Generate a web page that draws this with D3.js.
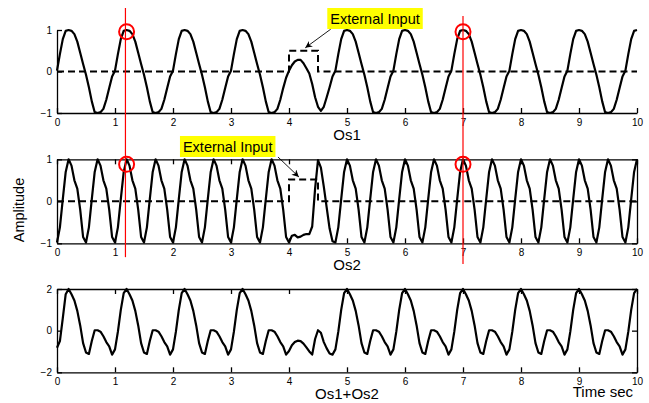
<!DOCTYPE html>
<html>
<head>
<meta charset="utf-8">
<script src="https://cdn.jsdelivr.net/npm/d3@7/dist/d3.min.js"></script>
<style>
body { margin: 0; background: #fff; }
text { font-family: "Liberation Sans", Arial, Helvetica, sans-serif; }
</style>
</head>
<body>
<script>
// sample step of the signals (sec)
var dt = 0.05;

// Os1, t = 0 .. 10
var os1 = [
  0.02, 0.42, 0.78, 0.98, 1.00, 0.98, 0.90, 0.72, 0.45, 0.18, -0.08, -0.38, -0.72, -0.98, -1.00, -0.98, -0.90, -0.68, -0.40, -0.12,
  0.02, 0.42, 0.78, 0.98, 1.00, 0.98, 0.90, 0.72, 0.45, 0.18, -0.08, -0.38, -0.72, -0.98, -1.00, -0.98, -0.90, -0.68, -0.40, -0.12,
  0.02, 0.42, 0.78, 0.98, 1.00, 0.98, 0.90, 0.72, 0.45, 0.18, -0.08, -0.38, -0.72, -0.98, -1.00, -0.98, -0.90, -0.68, -0.40, -0.12,
  0.02, 0.42, 0.78, 0.98, 1.00, 0.98, 0.90, 0.72, 0.45, 0.18, -0.08, -0.38, -0.72, -0.98, -1.00, -0.98, -0.90, -0.68, -0.40, -0.15,
  0.02, 0.15, 0.24, 0.28, 0.28, 0.20, 0.08, -0.05, -0.30, -0.62, -0.85, -0.95, -0.85, -0.62, -0.38, -0.12,
  0.02, 0.42, 0.78, 0.98, 1.00, 0.98, 0.90, 0.72, 0.45, 0.18, -0.08, -0.38, -0.72, -0.98, -1.00, -0.98, -0.90, -0.68, -0.40, -0.12,
  0.02, 0.42, 0.78, 0.98, 1.00, 0.98, 0.90, 0.72, 0.45, 0.18, -0.08, -0.38, -0.72, -0.98, -1.00, -0.98, -0.90, -0.68, -0.40, -0.12,
  0.02, 0.42, 0.78, 0.98, 1.00, 0.98, 0.90, 0.72, 0.45, 0.18, -0.08, -0.38, -0.72, -0.98, -1.00, -0.98, -0.90, -0.68, -0.40, -0.12,
  0.02, 0.42, 0.78, 0.98, 1.00, 0.98, 0.90, 0.72, 0.45, 0.18, -0.08, -0.38, -0.72, -0.98, -1.00, -0.98, -0.90, -0.68, -0.40, -0.12,
  0.02, 0.42, 0.78, 0.98, 1.00, 0.98, 0.90, 0.72, 0.45, 0.18, -0.08, -0.38, -0.72, -0.98, -1.00, -0.98, -0.90, -0.68, -0.40, -0.12,
  0.02, 0.42, 0.78, 0.98, 1.00
];

// Os2, middle panel
var os2 = [
  -0.98, -0.62, 0.05, 0.70, 1.00, 0.85, 0.50, 0.30, -0.20, -0.85, -0.98, -0.62, 0.05, 0.70, 1.00, 0.85, 0.50, 0.30, -0.20, -0.85,
  -0.98, -0.62, 0.05, 0.70, 1.00, 0.85, 0.50, 0.30, -0.20, -0.85, -0.98, -0.62, 0.05, 0.70, 1.00, 0.85, 0.50, 0.30, -0.20, -0.85,
  -0.98, -0.62, 0.05, 0.70, 1.00, 0.85, 0.50, 0.30, -0.20, -0.85, -0.98, -0.62, 0.05, 0.70, 1.00, 0.85, 0.50, 0.30, -0.20, -0.85,
  -0.98, -0.62, 0.05, 0.70, 1.00, 0.85, 0.50, 0.30, -0.20, -0.85, -0.98, -0.62, 0.05, 0.70, 1.00, 0.85, 0.50, 0.30, -0.20, -0.85,
  -0.98, -0.82, -0.80, -0.86, -0.84, -0.80, -0.78, -0.78, -0.60, 0.30, 0.98, 0.80, 0.35, -0.15, -0.65, -0.95,
  -0.98, -0.62, 0.05, 0.70, 1.00, 0.85, 0.50, 0.30, -0.20, -0.85, -0.98, -0.62, 0.05, 0.70, 1.00, 0.85, 0.50, 0.30, -0.20, -0.85,
  -0.98, -0.62, 0.05, 0.70, 1.00, 0.85, 0.50, 0.30, -0.20, -0.85, -0.98, -0.62, 0.05, 0.70, 1.00, 0.85, 0.50, 0.30, -0.20, -0.85,
  -0.98, -0.62, 0.05, 0.70, 1.00, 0.85, 0.50, 0.30, -0.20, -0.85, -0.98, -0.62, 0.05, 0.70, 1.00, 0.85, 0.50, 0.30, -0.20, -0.85,
  -0.98, -0.62, 0.05, 0.70, 1.00, 0.85, 0.50, 0.30, -0.20, -0.85, -0.98, -0.62, 0.05, 0.70, 1.00, 0.85, 0.50, 0.30, -0.20, -0.85,
  -0.98, -0.62, 0.05, 0.70, 1.00, 0.85, 0.50, 0.30, -0.20, -0.85, -0.98, -0.62, 0.05, 0.70, 1.00, 0.85, 0.50, 0.30, -0.20, -0.85,
  -0.98, -0.62, 0.05, 0.70, 1.00
];

// Os1+Os2, bottom panel
var osSum = [
  -0.82, -0.50, 0.60, 1.75, 2.00, 1.75, 1.45, 0.95, 0.25, -0.60, -1.05, -1.12, -0.50, 0.02, 0.02, -0.05, -0.27, -0.55, -0.75, -1.15,
  -0.90, -0.05, 1.00, 1.80, 2.00, 1.75, 1.45, 0.95, 0.25, -0.60, -1.05, -1.12, -0.50, 0.02, 0.02, -0.05, -0.27, -0.55, -0.75, -1.15,
  -0.90, -0.05, 1.00, 1.80, 2.00, 1.75, 1.45, 0.95, 0.25, -0.60, -1.05, -1.12, -0.50, 0.02, 0.02, -0.05, -0.27, -0.55, -0.75, -1.15,
  -0.90, -0.05, 1.00, 1.80, 2.00, 1.75, 1.45, 0.95, 0.25, -0.60, -1.05, -1.12, -0.50, 0.02, 0.02, -0.05, -0.27, -0.55, -0.75, -1.15,
  -0.98, -0.70, -0.55, -0.48, -0.50, -0.62, -0.80, -1.00, -1.15, -0.40, 0.02, -0.10, -0.55, -0.85, -1.10, -1.15,
  -0.90, -0.05, 1.00, 1.80, 2.00, 1.75, 1.45, 0.95, 0.25, -0.60, -1.05, -1.12, -0.50, 0.02, 0.02, -0.05, -0.27, -0.55, -0.75, -1.15,
  -0.90, -0.05, 1.00, 1.80, 2.00, 1.75, 1.45, 0.95, 0.25, -0.60, -1.05, -1.12, -0.50, 0.02, 0.02, -0.05, -0.27, -0.55, -0.75, -1.15,
  -0.90, -0.05, 1.00, 1.80, 2.00, 1.75, 1.45, 0.95, 0.25, -0.60, -1.05, -1.12, -0.50, 0.02, 0.02, -0.05, -0.27, -0.55, -0.75, -1.15,
  -0.90, -0.05, 1.00, 1.80, 2.00, 1.75, 1.45, 0.95, 0.25, -0.60, -1.05, -1.12, -0.50, 0.02, 0.02, -0.05, -0.27, -0.55, -0.75, -1.15,
  -0.90, -0.05, 1.00, 1.80, 2.00, 1.75, 1.45, 0.95, 0.25, -0.60, -1.05, -1.12, -0.50, 0.02, 0.02, -0.05, -0.27, -0.55, -0.75, -1.15,
  -0.90, -0.05, 1.00, 1.80, 2.00
];

// external input pulse (dashed)
var inputT = [0, 4, 4, 4.5, 4.5, 10];
var input1V = [0, 0, 0.5, 0.5, 0, 0];
var input2V = [0, 0, 0.52, 0.52, 0, 0];

// ticks
var xTicks = [0, 1, 2, 3, 4, 5, 6, 7, 8, 9, 10];
var yTicks1 = [-1, 0, 1];
var yTicks3 = [-2, 0, 2];

// red markers: vertical lines (top in Os1 units, bottom in Os2 units) and circles
var markLineT = [1.18, 7.0];
var markLineTop = [1.53, 1.34];
var markLineBottom = [-1.33, -1.49];
var markCircleT = [1.2, 7.0];
var markCircleV1 = 0.96;
var markCircleV2 = 0.88;

// "External Input" notes: box top-left, arrow tail and tip (data units of its panel)
var noteText = "External Input";
var noteBoxT = [4.66, 2.12];
var noteBoxV = [1.53, 1.555];
var noteTailT = [4.72, 3.81];
var noteTailV = [1.02, 1.055];
var noteTipT = [4.28, 4.17];
var noteTipV = [0.57, 0.58];

var width = 649, height = 403;
var left = 57, right = 637;

var svg = d3.select("body")
    .append("svg")
        .attr("width", width)
        .attr("height", height);

svg.append("defs").append("marker")
    .attr("id", "head")
    .attr("viewBox", "0 0 10 10")
    .attr("refX", 10)
    .attr("refY", 5)
    .attr("markerUnits", "userSpaceOnUse")
    .attr("markerWidth", 9)
    .attr("markerHeight", 7)
    .attr("orient", "auto")
  .append("path")
    .attr("d", "M0,0L10,5L0,10L3,5Z")
    .attr("fill", "#000");

var x = d3.scaleLinear()
    .domain([0, 10])
    .range([left, right]);

var panels = [
    {name: "Os1", values: os1, domain: [-1, 1], ticks: yTicks1, top: 30, bottom: 113, box: false, input: input1V},
    {name: "Os2", values: os2, domain: [-1, 1], ticks: yTicks1, top: 159.3, bottom: 243.3, box: true, input: input2V},
    {name: "Os1+Os2", values: osSum, domain: [-2, 2], ticks: yTicks3, top: 289, bottom: 372.3, box: true, input: null}
];

function styleAxis(g) {
    g.attr("font-family", null).attr("font-size", null);
    g.selectAll("text").style("font-size", "10px").attr("fill", "#000");
    g.selectAll("path, line").attr("stroke", "#000").attr("stroke-width", 1.3);
}

panels.forEach(function(p) {
    var y = d3.scaleLinear()
        .domain(p.domain)
        .range([p.bottom, p.top]);
    p.y = y;

    var g = svg.append("g");

    // Add the X Axis
    g.append("g")
        .attr("transform", "translate(0," + p.bottom + ")")
        .call(d3.axisBottom(x).tickValues(xTicks).tickFormat(d3.format("d"))
            .tickSizeInner(-5).tickSizeOuter(0).tickPadding(6))
        .call(styleAxis);

    // Add the Y Axis
    g.append("g")
        .attr("transform", "translate(" + left + ",0)")
        .call(d3.axisLeft(y).tickValues(p.ticks).tickFormat(d3.format("d"))
            .tickSizeInner(-5).tickSizeOuter(0).tickPadding(5))
        .call(styleAxis);

    if (p.box) {
        g.append("g")
            .attr("transform", "translate(0," + p.top + ")")
            .call(d3.axisTop(x).tickValues(xTicks).tickFormat("")
                .tickSizeInner(-5).tickSizeOuter(0))
            .call(styleAxis);
        g.append("g")
            .attr("transform", "translate(" + right + ",0)")
            .call(d3.axisRight(y).tickValues(p.ticks).tickFormat("")
                .tickSizeInner(-5).tickSizeOuter(0))
            .call(styleAxis);
    }

    // dashed external input
    if (p.input) {
        g.append("path")
            .datum(p.input)
            .attr("fill", "none")
            .attr("stroke", "#000")
            .attr("stroke-width", 2)
            .attr("stroke-dasharray", "7,4")
            .attr("d", d3.line()
                .x(function(d, i) { return x(inputT[i]); })
                .y(function(d) { return y(d); }));
    }

    // signal
    g.append("path")
        .datum(p.values)
        .attr("fill", "none")
        .attr("stroke", "#000")
        .attr("stroke-width", 2.2)
        .attr("stroke-linejoin", "round")
        .attr("d", d3.line()
            .x(function(d, i) { return x(i * dt); })
            .y(function(d) { return y(d); }));

    // panel label
    g.append("text")
        .attr("x", (left + right) / 2)
        .attr("y", p.bottom + 26.5)
        .attr("text-anchor", "middle")
        .style("font-size", "15px")
        .text(p.name);
});

svg.append("text")
    .attr("x", 633)
    .attr("y", 397)
    .attr("text-anchor", "end")
    .style("font-size", "15px")
    .text("Time sec");

svg.append("text")
    .attr("transform", "translate(24,210) rotate(-90)")
    .attr("text-anchor", "middle")
    .style("font-size", "14.5px")
    .text("Amplitude");

// External Input notes
[0, 1].forEach(function(k) {
    var y = panels[k].y;
    svg.append("line")
        .attr("x1", x(noteTailT[k]))
        .attr("y1", y(noteTailV[k]))
        .attr("x2", x(noteTipT[k]))
        .attr("y2", y(noteTipV[k]))
        .attr("stroke", "#000")
        .attr("stroke-width", 0.9)
        .attr("marker-end", "url(#head)");

    var bx = x(noteBoxT[k]), by = y(noteBoxV[k]);
    var rect = svg.append("rect").attr("fill", "#ffff00");
    var t = svg.append("text")
        .attr("x", bx + 3)
        .attr("y", by + 16)
        .style("font-size", "14.5px")
        .text(noteText);
    var bb = t.node().getBBox();
    rect.attr("x", bx)
        .attr("y", by)
        .attr("width", bb.width + 6)
        .attr("height", 21);
});

// red markers
markLineT.forEach(function(t, i) {
    svg.append("line")
        .attr("x1", x(t)).attr("x2", x(t))
        .attr("y1", panels[0].y(markLineTop[i]))
        .attr("y2", panels[1].y(markLineBottom[i]))
        .attr("stroke", "#ff0000")
        .attr("stroke-width", 1.2);
});
markCircleT.forEach(function(t) {
    [[0, markCircleV1], [1, markCircleV2]].forEach(function(c) {
        svg.append("circle")
            .attr("cx", x(t))
            .attr("cy", panels[c[0]].y(c[1]))
            .attr("r", 7.5)
            .attr("fill", "none")
            .attr("stroke", "#ff0000")
            .attr("stroke-width", 2);
    });
});
</script>
</body>
</html>
